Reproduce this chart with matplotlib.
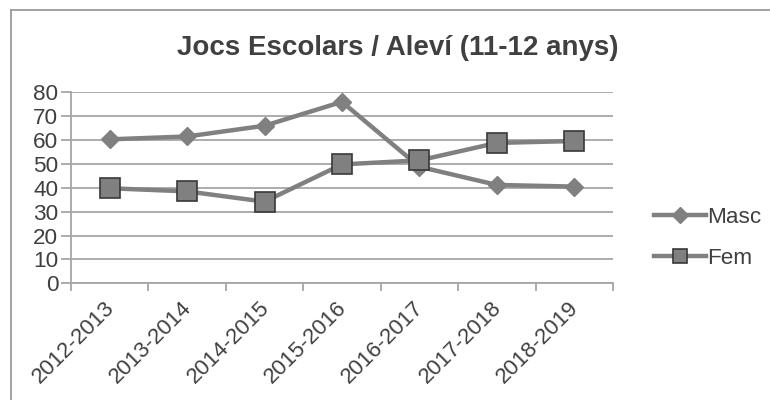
import matplotlib.pyplot as plt
from matplotlib.lines import Line2D
from matplotlib.transforms import ScaledTranslation

plt.rcParams["font.family"] = ["Liberation Sans", "DejaVu Sans"]

TEXT_COLOR = "#404040"
LINE_COLOR = "#808080"
GRID_COLOR = "#a6a6a6"

seasons = ["2012-2013", "2013-2014", "2014-2015", "2015-2016",
           "2016-2017", "2017-2018", "2018-2019"]
masc = [60.3, 61.5, 66.0, 76.0, 48.8, 41.2, 40.5]
fem = [39.8, 38.5, 34.2, 49.8, 51.5, 58.8, 59.6]
y_ticks = [0, 10, 20, 30, 40, 50, 60, 70, 80]

fig = plt.figure(figsize=(7.7, 4.0), dpi=100)
ax = fig.add_axes([71 / 770, 1 - 283.3 / 400, 542 / 770, 191 / 400])

x = list(range(len(seasons)))
ax.plot(x, masc, color=LINE_COLOR, lw=3.2, marker="D", ms=9,
        mfc=LINE_COLOR, mec=LINE_COLOR, label="Masc", zorder=3)
ax.plot(x, fem, color=LINE_COLOR, lw=3.2, marker="s", ms=14,
        mfc=LINE_COLOR, mec="#383838", mew=1.2, label="Fem", zorder=4)

ax.set_xlim(-0.5, len(seasons) - 0.5)
ax.set_ylim(0, 80)
ax.set_yticks(y_ticks)
ax.set_xticks(x)
ax.set_xticklabels(seasons, rotation=45, ha="right", va="top",
                   rotation_mode="anchor")
ax.set_xticks([i - 0.5 for i in range(len(seasons) + 1)], minor=True)

ax.grid(axis="y", color=GRID_COLOR, lw=1.3)
ax.set_axisbelow(True)
for side in ["top", "right"]:
    ax.spines[side].set_visible(False)
for side in ["left", "bottom"]:
    ax.spines[side].set_color(GRID_COLOR)
    ax.spines[side].set_linewidth(1.3)

ax.tick_params(axis="x", which="major", length=0, labelsize=16,
               labelcolor=TEXT_COLOR, pad=10)
ax.tick_params(axis="x", which="minor", length=6, color=GRID_COLOR, width=1.3)
ax.tick_params(axis="y", length=7, color=GRID_COLOR, width=1.3,
               labelsize=16.2, labelcolor=TEXT_COLOR, pad=2)

# nudge the rotated labels left so their ends sit like the original
shift = ScaledTranslation(-6 / 100, 0, fig.dpi_scale_trans)
for label in ax.get_xticklabels():
    label.set_transform(label.get_transform() + shift)

fig.text(398 / 770, 1 - 48 / 400, "Jocs Escolars / Aleví (11-12 anys)",
         ha="center", va="center", fontsize=20, fontweight="bold",
         color=TEXT_COLOR)

handles = [
    Line2D([], [], color=LINE_COLOR, lw=3.2, marker="D", ms=8,
           mfc=LINE_COLOR, mec=LINE_COLOR),
    Line2D([], [], color=LINE_COLOR, lw=3.2, marker="s", ms=10,
           mfc=LINE_COLOR, mec="#383838", mew=1.2),
]
fig.legend(handles, ["Masc", "Fem"], loc="center left",
           bbox_to_anchor=(643 / 770, 1 - 238 / 400), frameon=False,
           fontsize=16.2, labelcolor=TEXT_COLOR, handlelength=2.3,
           handletextpad=0.05, labelspacing=0.9, borderpad=0)

# chart frame: only the top and left edges are visible in the crop
fig.add_artist(Line2D([11 / 770, 1], [1 - 10 / 400, 1 - 10 / 400],
                      color="#9a9a9a", lw=1.3, transform=fig.transFigure))
fig.add_artist(Line2D([11 / 770, 11 / 770], [0, 1 - 10 / 400],
                      color="#9a9a9a", lw=1.3, transform=fig.transFigure))

fig.savefig("out.png", dpi=100)
